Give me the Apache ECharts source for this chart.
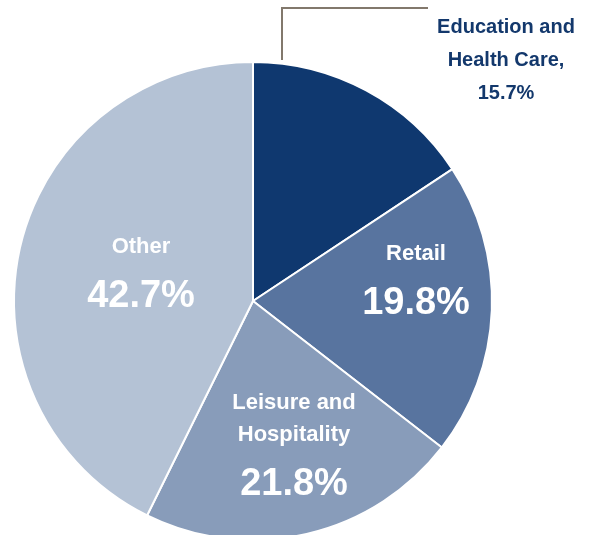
<!DOCTYPE html>
<html>
<head>
<meta charset="utf-8">
<script src="https://cdn.jsdelivr.net/npm/echarts@6/dist/echarts.min.js"></script>
<style>
  html, body { margin: 0; padding: 0; background: #ffffff; }
  #chart { width: 593px; height: 535px; }
</style>
</head>
<body>
<div id="chart"></div>
<script>
// Employment share by sector
const sectors = ['Education and Health Care', 'Retail', 'Leisure and Hospitality', 'Other'];
const shares = [15.7, 19.8, 21.8, 42.7];
const nameLines = [['Education and', 'Health Care,'], ['Retail'], ['Leisure and', 'Hospitality'], ['Other']];

const sliceColors = ['#0f386f', '#58749f', '#889cba', '#b4c2d5'];
const FONT = '"Liberation Sans", Arial, sans-serif';

// where each label block sits (centre, px) and the leader line for the outside label
const labelSpots = [
  { x: 506, y: 60 },
  { x: 416, y: 288 },
  { x: 294, y: 453 },
  { x: 141, y: 281 }
];
const leaderPath = [[282, 60], [282, 8], [428, 8]];

const pieData = sectors.map((name, i) => {
  const outside = i === 0;
  return {
    name: name,
    value: shares[i],
    itemStyle: { color: sliceColors[i] },
    label: outside ? {
      show: true,
      position: 'outside',
      formatter: nameLines[i].map(l => '{o|' + l + '}').join('\n') + '\n{o|' + shares[i].toFixed(1) + '%}',
      rich: {
        o: { fontFamily: FONT, fontWeight: 'bold', fontSize: 20, lineHeight: 33, color: '#13386c', align: 'center' }
      }
    } : {
      show: true,
      position: 'inside',
      formatter: nameLines[i].map(l => '{n|' + l + '}').join('\n') + '\n{v|' + shares[i].toFixed(1) + '%}',
      rich: {
        n: { fontFamily: FONT, fontWeight: 'bold', fontSize: 22, lineHeight: 32, color: '#ffffff', align: 'center' },
        v: { fontFamily: FONT, fontWeight: 'bold', fontSize: 38, lineHeight: 68, color: '#ffffff', align: 'center' }
      }
    },
    labelLine: outside ? { show: true, lineStyle: { color: '#82786c', width: 2 } } : { show: false }
  };
});

const chart = echarts.init(document.getElementById('chart'), null, { renderer: 'canvas' });
chart.setOption({
  backgroundColor: '#ffffff',
  animation: false,
  series: [{
    type: 'pie',
    center: [253, 301],
    radius: 239,
    startAngle: 90,
    clockwise: true,
    avoidLabelOverlap: false,
    itemStyle: { borderColor: '#ffffff', borderWidth: 2 },
    labelLayout: function (params) {
      const spot = labelSpots[params.dataIndex];
      const out = { x: spot.x, y: spot.y, align: 'center', verticalAlign: 'middle' };
      if (params.dataIndex === 0) out.labelLinePoints = leaderPath;
      return out;
    },
    data: pieData
  }]
});
</script>
</body>
</html>
